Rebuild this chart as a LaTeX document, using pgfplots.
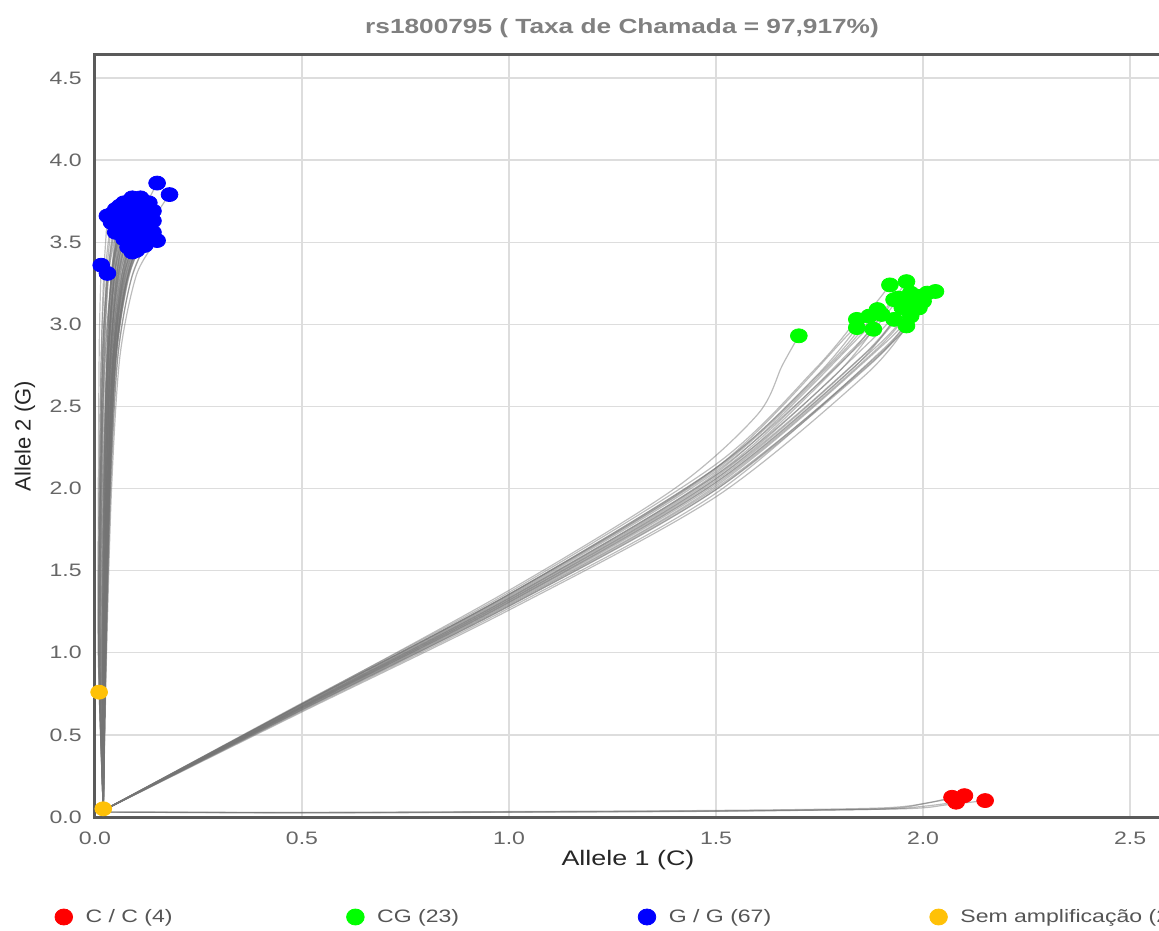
\documentclass[border=0pt]{standalone}
\usepackage{pgfplots}
\pgfplotsset{compat=1.18}
\usepackage{fontspec}
\setmainfont{Liberation Sans}[FakeStretch=1.28]
\newfontfamily\ylabfont{Liberation Sans}
\definecolor{axcol}{HTML}{5A5A5A}
\definecolor{gridcol}{HTML}{DDDDDD}
\definecolor{ticktext}{HTML}{666666}
\definecolor{titlecol}{HTML}{808080}
\definecolor{legtext}{HTML}{555555}
\definecolor{ccred}{HTML}{FF0000}
\definecolor{cggreen}{HTML}{00FF00}
\definecolor{ggblue}{HTML}{0000FF}
\definecolor{semyel}{HTML}{FFC107}
\pgfplotsset{
  curve/.style={draw=black!55, opacity=0.48, line width=0.6pt, smooth, no markers, forget plot},
  pts/.style={only marks, mark=*, mark size=3.5pt, mark options={xscale=1.2, draw=#1, fill=#1}, forget plot},
}
\begin{document}
\begin{tikzpicture}
\begin{axis}[
  name=ax, at={(0,0)}, anchor=south west,
  scale only axis, width=540pt, height=381pt,
  xmin=0, xmax=2.6086, ymin=0, ymax=4.64,
  axis line style={draw=axcol, line width=1.5pt},
  xtick={0,0.5,1,1.5,2,2.5}, xticklabels={0.0,0.5,1.0,1.5,2.0,2.5},
  ytick={0,0.5,1,1.5,2,2.5,3,3.5,4,4.5}, yticklabels={0.0,0.5,1.0,1.5,2.0,2.5,3.0,3.5,4.0,4.5},
  major tick length=0pt,
  grid=major, grid style={draw=gridcol, line width=0.7pt},
  tick label style={font=\fontsize{9}{11}\selectfont, text=ticktext},
  xticklabel style={anchor=center, yshift=-10.5pt, inner sep=0pt},
  yticklabel style={anchor=east, xshift=-6.5pt, inner sep=0pt},
  title={rs1800795 ( Taxa de Chamada = 97,917\%)},
  title style={at={([yshift=7.5pt]rel axis cs:0.488,1)}, anchor=center, font=\bfseries\fontsize{10.25}{12}\selectfont, text=titlecol},
  xlabel={Allele 1 (C)},
  xlabel style={at={([yshift=-21.5pt]rel axis cs:0.4935,0)}, anchor=center, font=\fontsize{10.5}{12}\selectfont, text=black!85},
  ylabel={Allele 2 (G)},
  ylabel style={at={([xshift=-35pt]rel axis cs:0,0.5)}, anchor=center, font=\ylabfont\fontsize{11}{13}\selectfont, text=black!85},
  clip=false,
  legend columns=4,
  legend style={at={([xshift=-20pt,yshift=-50pt]rel axis cs:0,0)}, anchor=west, draw=none, fill=none,
    inner sep=0pt, outer sep=0pt, column sep=0pt, font=\fontsize{9}{11}\selectfont, text=legtext,
    nodes={inner sep=0pt}},
  legend image code/.code={\draw[mark repeat=2,mark phase=2,#1] plot coordinates {(0pt,0pt) (4pt,0pt) (8pt,0pt)};},
]
% ---------- red (C/C) trajectories ----------
\addplot[curve] coordinates {(0.02,0.03) (0.5,0.027) (1.0,0.031) (1.5,0.037) (1.9,0.05) (2.0,0.08) (2.07,0.12)};
\addplot[curve] coordinates {(0.02,0.03) (0.5,0.025) (1.0,0.029) (1.5,0.035) (1.9,0.048) (2.0,0.065) (2.08,0.09)};
\addplot[curve] coordinates {(0.02,0.03) (0.5,0.028) (1.0,0.033) (1.5,0.04) (1.9,0.055) (2.02,0.09) (2.10,0.13)};
\addplot[curve] coordinates {(0.02,0.03) (0.5,0.026) (1.0,0.03) (1.5,0.036) (1.95,0.05) (2.06,0.075) (2.15,0.10)};
% ---------- green (CG) trajectories ----------
\addplot[curve] coordinates {(0.02,0.04) (0.5,0.694) (1.0,1.368) (1.5,2.148) (1.74,2.73) (1.84,3.03)};
\addplot[curve] coordinates {(0.02,0.04) (0.5,0.688) (1.0,1.356) (1.5,2.126) (1.74,2.68) (1.84,2.98)};
\addplot[curve] coordinates {(0.02,0.04) (0.5,0.688) (1.0,1.356) (1.5,2.126) (1.77,2.75) (1.87,3.05)};
\addplot[curve] coordinates {(0.02,0.04) (0.5,0.685) (1.0,1.35) (1.5,2.115) (1.79,2.79) (1.89,3.09)};
\addplot[curve] coordinates {(0.02,0.04) (0.5,0.676) (1.0,1.332) (1.5,2.082) (1.78,2.67) (1.88,2.97)};
\addplot[curve] coordinates {(0.02,0.04) (0.5,0.676) (1.0,1.332) (1.5,2.082) (1.83,2.85) (1.93,3.15)};
\addplot[curve] coordinates {(0.02,0.04) (0.5,0.688) (1.0,1.356) (1.5,2.126) (1.82,2.94) (1.92,3.24)};
\addplot[curve] coordinates {(0.02,0.04) (0.5,0.679) (1.0,1.338) (1.5,2.093) (1.86,2.96) (1.96,3.26)};
\addplot[curve] coordinates {(0.02,0.04) (0.5,0.67) (1.0,1.32) (1.5,2.06) (1.87,2.89) (1.97,3.19)};
\addplot[curve] coordinates {(0.02,0.04) (0.5,0.667) (1.0,1.314) (1.5,2.049) (1.86,2.82) (1.96,3.12)};
\addplot[curve] coordinates {(0.02,0.04) (0.5,0.664) (1.0,1.308) (1.5,2.038) (1.89,2.87) (1.99,3.17)};
\addplot[curve] coordinates {(0.02,0.04) (0.5,0.652) (1.0,1.284) (1.5,1.994) (1.93,2.90) (2.03,3.20)};
\addplot[curve] coordinates {(0.02,0.04) (0.5,0.658) (1.0,1.296) (1.5,2.016) (1.91,2.89) (2.01,3.19)};
\addplot[curve] coordinates {(0.02,0.04) (0.5,0.67) (1.0,1.32) (1.5,2.06) (1.85,2.80) (1.95,3.10)};
\addplot[curve] coordinates {(0.02,0.04) (0.5,0.655) (1.0,1.29) (1.5,2.005) (1.89,2.80) (1.99,3.10)};
\addplot[curve] coordinates {(0.02,0.04) (0.5,0.652) (1.0,1.284) (1.5,1.994) (1.87,2.75) (1.97,3.05)};
\addplot[curve] coordinates {(0.02,0.04) (0.5,0.664) (1.0,1.308) (1.5,2.038) (1.83,2.73) (1.93,3.03)};
\addplot[curve] coordinates {(0.02,0.04) (0.5,0.64) (1.0,1.26) (1.5,1.95) (1.86,2.69) (1.96,2.99)};
\addplot[curve] coordinates {(0.02,0.04) (0.5,0.661) (1.0,1.302) (1.5,2.027) (1.88,2.83) (1.98,3.13)};
\addplot[curve] coordinates {(0.02,0.04) (0.5,0.682) (1.0,1.344) (1.5,2.104) (1.84,2.86) (1.94,3.16)};
\addplot[curve] coordinates {(0.02,0.04) (0.5,0.673) (1.0,1.326) (1.5,2.071) (1.80,2.76) (1.90,3.06)};
\addplot[curve] coordinates {(0.02,0.04) (0.5,0.646) (1.0,1.272) (1.5,1.972) (1.90,2.84) (2.00,3.14)};
\addplot[curve] coordinates {(0.02,0.04) (0.5,0.69) (1.0,1.38) (1.4,2.0) (1.6,2.45) (1.66,2.75) (1.70,2.93)};
% ---------- blue (G/G) trajectories ----------
\addplot[curve] coordinates {(0.02,0.04) (0.024,1.0) (0.032,2.0) (0.045,2.8) (0.08,3.45) (0.15,3.86)};
\addplot[curve] coordinates {(0.02,0.04) (0.026,1.0) (0.036,2.0) (0.05,2.8) (0.09,3.4) (0.18,3.79)};
\addplot[curve] coordinates {(0.02,0.04) (0.008,1.0) (0.008,2.0) (0.01,2.8) (0.012,3.1) (0.015,3.36)};
\addplot[curve] coordinates {(0.02,0.04) (0.012,1.0) (0.014,2.0) (0.018,2.8) (0.024,3.1) (0.03,3.31)};
\addplot[curve] coordinates {(0.02,0.04) (0.028,1.0) (0.04,2.0) (0.06,2.8) (0.1,3.3) (0.15,3.51)};
\addplot[curve] coordinates {(0.02,0.04) (0.009,1.0) (0.011,2.0) (0.015,2.8) (0.021,3.3) (0.03,3.66)};
\addplot[curve] coordinates {(0.02,0.04) (0.012,1.0) (0.016,2.0) (0.022,2.8) (0.033,3.35) (0.05,3.70)};
\addplot[curve] coordinates {(0.02,0.04) (0.02,1.0) (0.025,2.0) (0.032,2.8) (0.045,3.4) (0.07,3.74)};
\addplot[curve] coordinates {(0.02,0.04) (0.021,1.0) (0.027,2.0) (0.035,2.8) (0.052,3.42) (0.09,3.77)};
\addplot[curve] coordinates {(0.02,0.04) (0.023,1.0) (0.03,2.0) (0.04,2.8) (0.065,3.4) (0.12,3.74)};
\addplot[curve] coordinates {(0.02,0.04) (0.025,1.0) (0.034,2.0) (0.048,2.8) (0.085,3.35) (0.14,3.63)};
\addplot[curve] coordinates {(0.02,0.04) (0.024,1.0) (0.032,2.0) (0.045,2.75) (0.065,3.2) (0.09,3.44)};
\addplot[curve] coordinates {(0.02,0.04) (0.014,1.0) (0.02,2.0) (0.03,2.8) (0.047,3.25) (0.07,3.52)};
\addplot[curve] coordinates {(0.02,0.04) (0.026,1.0) (0.035,2.0) (0.05,2.8) (0.072,3.25) (0.10,3.50)};
\addplot[curve] coordinates {(0.02,0.04) (0.027,1.0) (0.037,2.0) (0.055,2.8) (0.085,3.25) (0.12,3.48)};
\addplot[curve] coordinates {(0.02,0.04) (0.025,1.0) (0.035,2.0) (0.05,2.8) (0.085,3.32) (0.13,3.58)};
\addplot[curve] coordinates {(0.02,0.04) (0.013,1.0) (0.017,2.0) (0.025,2.8) (0.04,3.3) (0.06,3.60)};
\addplot[curve] coordinates {(0.02,0.04) (0.021,1.0) (0.026,2.0) (0.034,2.8) (0.05,3.35) (0.08,3.68)};
\addplot[curve] coordinates {(0.02,0.04) (0.023,1.0) (0.03,2.0) (0.042,2.8) (0.065,3.35) (0.11,3.66)};
\addplot[curve] coordinates {(0.02,0.04) (0.024,1.0) (0.032,2.0) (0.044,2.8) (0.075,3.38) (0.13,3.70)};
\addplot[curve] coordinates {(0.02,0.04) (0.022,1.0) (0.028,2.0) (0.037,2.8) (0.058,3.4) (0.10,3.72)};
\addplot[curve] coordinates {(0.02,0.04) (0.01,1.0) (0.013,2.0) (0.019,2.8) (0.028,3.3) (0.04,3.62)};
\addplot[curve] coordinates {(0.02,0.04) (0.018,1.0) (0.022,2.0) (0.029,2.8) (0.038,3.25) (0.05,3.56)};
\addplot[curve] coordinates {(0.02,0.04) (0.022,1.0) (0.029,2.0) (0.04,2.8) (0.058,3.22) (0.08,3.47)};
\addplot[curve] coordinates {(0.02,0.04) (0.024,1.0) (0.033,2.0) (0.047,2.8) (0.075,3.3) (0.11,3.55)};
\addplot[curve] coordinates {(0.02,0.04) (0.015,1.0) (0.021,2.0) (0.032,2.8) (0.055,3.33) (0.09,3.63)};
\addplot[curve] coordinates {(0.02,0.04) (0.024,1.0) (0.032,2.0) (0.045,2.8) (0.075,3.35) (0.12,3.64)};
\addplot[curve] coordinates {(0.02,0.04) (0.02,1.0) (0.025,2.0) (0.033,2.8) (0.047,3.32) (0.07,3.63)};
\addplot[curve] coordinates {(0.02,0.04) (0.023,1.0) (0.031,2.0) (0.043,2.8) (0.066,3.3) (0.10,3.58)};
\addplot[curve] coordinates {(0.02,0.04) (0.011,1.0) (0.015,2.0) (0.022,2.8) (0.036,3.38) (0.06,3.72)};
\addplot[curve] coordinates {(0.02,0.04) (0.022,1.0) (0.028,2.0) (0.038,2.8) (0.06,3.42) (0.11,3.77)};
\addplot[curve] coordinates {(0.02,0.04) (0.027,1.0) (0.038,2.0) (0.055,2.8) (0.09,3.3) (0.14,3.56)};
\addplot[curve] coordinates {(0.02,0.04) (0.025,1.0) (0.034,2.0) (0.048,2.75) (0.07,3.2) (0.10,3.45)};
\addplot[curve] coordinates {(0.02,0.04) (0.021,1.0) (0.027,2.0) (0.037,2.8) (0.054,3.28) (0.08,3.55)};
\addplot[curve] coordinates {(0.02,0.04) (0.025,1.0) (0.033,2.0) (0.046,2.8) (0.08,3.37) (0.14,3.69)};
\addplot[curve] coordinates {(0.02,0.04) (0.021,1.0) (0.027,2.0) (0.036,2.8) (0.055,3.38) (0.09,3.70)};
\addplot[curve] coordinates {(0.02,0.04) (0.026,1.0) (0.036,2.0) (0.052,2.8) (0.08,3.28) (0.12,3.53)};
\addplot[curve] coordinates {(0.02,0.04) (0.019,1.0) (0.024,2.0) (0.032,2.8) (0.046,3.28) (0.07,3.58)};
\addplot[curve] coordinates {(0.02,0.04) (0.009,1.0) (0.012,2.0) (0.018,2.8) (0.03,3.3) (0.05,3.63)};
\addplot[curve] coordinates {(0.02,0.04) (0.02,1.0) (0.025,2.0) (0.033,2.8) (0.048,3.4) (0.08,3.74)};
\addplot[curve] coordinates {(0.02,0.04) (0.023,1.0) (0.031,2.0) (0.043,2.8) (0.07,3.37) (0.12,3.69)};
\addplot[curve] coordinates {(0.02,0.04) (0.022,1.0) (0.029,2.0) (0.04,2.8) (0.062,3.32) (0.10,3.61)};
\addplot[curve] coordinates {(0.02,0.04) (0.016,1.0) (0.024,2.0) (0.036,2.8) (0.058,3.3) (0.09,3.57)};
\addplot[curve] coordinates {(0.02,0.04) (0.017,1.0) (0.021,2.0) (0.028,2.8) (0.04,3.3) (0.06,3.61)};
\addplot[curve] coordinates {(0.02,0.04) (0.018,1.0) (0.023,2.0) (0.03,2.8) (0.043,3.35) (0.07,3.68)};
\addplot[curve] coordinates {(0.02,0.04) (0.026,1.0) (0.036,2.0) (0.051,2.8) (0.077,3.26) (0.11,3.50)};
\addplot[curve] coordinates {(0.02,0.04) (0.025,1.0) (0.034,2.0) (0.048,2.8) (0.078,3.3) (0.12,3.58)};
\addplot[curve] coordinates {(0.02,0.04) (0.012,1.0) (0.018,2.0) (0.03,2.8) (0.05,3.34) (0.08,3.65)};
\addplot[curve] coordinates {(0.02,0.04) (0.021,1.0) (0.028,2.0) (0.038,2.8) (0.06,3.37) (0.10,3.69)};
\addplot[curve] coordinates {(0.02,0.04) (0.025,1.0) (0.035,2.0) (0.05,2.8) (0.082,3.33) (0.13,3.61)};
\addplot[curve] coordinates {(0.02,0.04) (0.023,1.0) (0.031,2.0) (0.043,2.78) (0.063,3.23) (0.09,3.48)};
\addplot[curve] coordinates {(0.02,0.04) (0.01,1.0) (0.014,2.0) (0.024,2.8) (0.04,3.27) (0.06,3.57)};
\addplot[curve] coordinates {(0.02,0.04) (0.023,1.0) (0.031,2.0) (0.043,2.8) (0.068,3.34) (0.11,3.64)};
\addplot[curve] coordinates {(0.02,0.04) (0.024,1.0) (0.032,2.0) (0.045,2.8) (0.068,3.28) (0.10,3.54)};
\addplot[curve] coordinates {(0.02,0.04) (0.019,1.0) (0.024,2.0) (0.032,2.8) (0.047,3.38) (0.08,3.71)};
\addplot[curve] coordinates {(0.02,0.04) (0.024,1.0) (0.033,2.0) (0.046,2.8) (0.074,3.33) (0.12,3.61)};
\addplot[curve] coordinates {(0.02,0.04) (0.018,1.0) (0.022,2.0) (0.029,2.8) (0.042,3.37) (0.07,3.71)};
\addplot[curve] coordinates {(0.02,0.04) (0.021,1.0) (0.028,2.0) (0.038,2.8) (0.057,3.31) (0.09,3.60)};
\addplot[curve] coordinates {(0.02,0.04) (0.008,1.0) (0.01,2.0) (0.015,2.8) (0.024,3.3) (0.04,3.67)};
\addplot[curve] coordinates {(0.02,0.04) (0.009,1.0) (0.013,2.0) (0.02,2.8) (0.032,3.3) (0.06,3.66)};
% ---------- yellow trajectory ----------
\addplot[curve] coordinates {(0.02,0.03) (0.015,0.4) (0.01,0.76)};
% ---------- markers ----------
\addplot[pts=ccred] coordinates {(2.07,0.12) (2.08,0.09) (2.10,0.13) (2.15,0.10)};
\addplot[pts=cggreen] coordinates {
 (1.70,2.93) (1.84,3.03) (1.84,2.98) (1.87,3.05) (1.89,3.09) (1.88,2.97) (1.93,3.15) (1.92,3.24)
 (1.96,3.26) (1.97,3.19) (1.96,3.12) (1.99,3.17) (2.03,3.20) (2.01,3.19) (1.95,3.10) (1.99,3.10)
 (1.97,3.05) (1.93,3.03) (1.96,2.99) (1.98,3.13) (1.94,3.16) (1.90,3.06) (2.00,3.14)};
\addplot[pts=ggblue] coordinates {
 (0.15,3.86) (0.18,3.79) (0.015,3.36) (0.03,3.31) (0.15,3.51)
 (0.03,3.66) (0.04,3.62) (0.05,3.70) (0.06,3.60) (0.07,3.74) (0.08,3.68) (0.09,3.77) (0.10,3.72)
 (0.11,3.66) (0.12,3.74) (0.13,3.70) (0.14,3.63) (0.05,3.56) (0.07,3.52) (0.08,3.47) (0.09,3.44)
 (0.10,3.50) (0.11,3.55) (0.12,3.48) (0.13,3.58) (0.06,3.66) (0.08,3.60) (0.09,3.63) (0.10,3.58)
 (0.11,3.61) (0.12,3.64) (0.07,3.63) (0.09,3.70) (0.10,3.66) (0.06,3.72) (0.04,3.67) (0.11,3.71)
 (0.13,3.65) (0.14,3.56) (0.08,3.55) (0.09,3.52) (0.10,3.45) (0.12,3.53) (0.07,3.58) (0.05,3.63)
 (0.08,3.74) (0.11,3.77) (0.12,3.69) (0.13,3.74) (0.10,3.61) (0.09,3.57) (0.06,3.61) (0.07,3.68)
 (0.11,3.50) (0.12,3.58) (0.08,3.65) (0.10,3.69) (0.13,3.61) (0.14,3.69) (0.09,3.48) (0.06,3.57)
 (0.11,3.64) (0.10,3.54) (0.08,3.71) (0.12,3.61) (0.07,3.71) (0.09,3.60)};
\addplot[pts=semyel] coordinates {(0.01,0.76) (0.02,0.05)};
% ---------- legend ----------
\addlegendimage{only marks, mark=*, mark size=4pt, mark options={xscale=1.1}, color=ccred}
\addlegendentry{\hspace{6.5pt}\makebox[130.5pt][l]{C / C (4)}}
\addlegendimage{only marks, mark=*, mark size=4pt, mark options={xscale=1.1}, color=cggreen}
\addlegendentry{\hspace{6.5pt}\makebox[130.5pt][l]{CG (23)}}
\addlegendimage{only marks, mark=*, mark size=4pt, mark options={xscale=1.1}, color=ggblue}
\addlegendentry{\hspace{6.5pt}\makebox[130.5pt][l]{G / G (67)}}
\addlegendimage{only marks, mark=*, mark size=4pt, mark options={xscale=1.1}, color=semyel}
\addlegendentry{\hspace{6.5pt}\makebox[130.5pt][l]{Sem amplificação (2)}}
\end{axis}
\pgfresetboundingbox
\path (-47.5pt,-56.5pt) rectangle (532pt,408.5pt);
\end{tikzpicture}
\end{document}
